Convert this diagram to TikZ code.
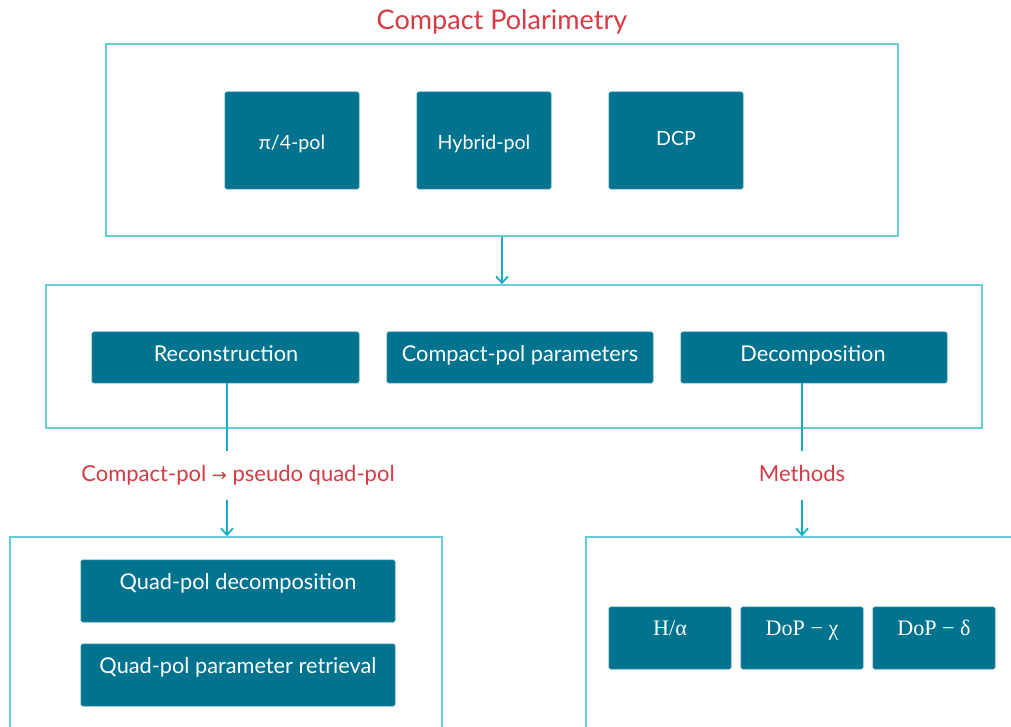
\documentclass[tikz,border=0pt]{standalone}
\usepackage{fontspec}
\setmainfont{Lato}
\newfontfamily\mserif{Liberation Serif}
\newfontfamily\symfont{DejaVu Sans}
\usetikzlibrary{arrows.meta,fit}
\definecolor{tealbox}{RGB}{2,115,143}
\definecolor{frameline}{RGB}{105,203,218}
\definecolor{connline}{RGB}{18,172,198}
\definecolor{redtext}{RGB}{214,58,68}
\begin{document}
\begin{tikzpicture}[x=0.75pt,y=-0.75pt,
  frame/.style={draw=frameline, line width=1.1pt, inner sep=0pt},
  tbox/.style={fill=tealbox, draw=tealbox!85!white, line width=0.5pt, rounded corners=1.2pt, inner sep=0pt},
  wtext/.style={text=white, anchor=base, inner sep=0pt, font=\fontsize{16.3}{19}\selectfont},
  ttext/.style={text=white, anchor=base, inner sep=0pt, font=\fontsize{14.7}{17}\selectfont},
  stext/.style={text=white, anchor=base, inner sep=0pt, font=\mserif\fontsize{16.6}{19}\selectfont},
  rtext/.style={text=redtext, anchor=base, inner sep=0pt, font=\fontsize{16.5}{19}\selectfont},
  conn/.style={draw=connline, line width=1.1pt},
  arr/.style={conn, -{Straight Barb[length=5pt,width=9pt,line width=1.3pt]}}
]
\useasboundingbox (0,0) rectangle (1011,727);

% title
\node[rtext, font=\fontsize{20.3}{24}\selectfont] (title) at (502,29.5) {Compact Polarimetry};

% top frame
\node[frame, fit={(106,44) (898,236)}] (topf) {};
\node[tbox, fit={(225,92) (359,189)}] (pi4) {};
\node[tbox, fit={(417,92) (551,189)}] (hyb) {};
\node[tbox, fit={(609,92) (743,189)}] (dcp) {};
\node[ttext] (pi4t) at (292,150) {π/4-pol};
\node[ttext] (hybt) at (484,150) {Hybrid-pol};
\node[ttext] (dcpt) at (676,145.5) {DCP};

% middle frame
\node[frame, fit={(46,285) (982,428)}] (midf) {};
\node[tbox, fit={(92,332) (359,383)}] (rec) {};
\node[tbox, fit={(387,332) (653,383)}] (cpp) {};
\node[tbox, fit={(681,332) (947,383)}] (dec) {};
\node[wtext] (rect) at (226,361.5) {Reconstruction};
\node[wtext] (cppt) at (520,361.5) {Compact-pol parameters};
\node[wtext] (dect) at (813,361.5) {Decomposition};

\draw[arr] (topf.south) -- (topf.south |- midf.north);

% labels
\node[rtext] (lab1) at (238,481.5) {Compact-pol {\symfont\fontsize{13.5}{16}\selectfont →} pseudo quad-pol};
\node[rtext] (lab2) at (802,481.5) {Methods};

% bottom frames
\node[frame, fit={(10,537) (442,740)}] (botl) {};
\node[frame, fit={(586,537) (1030,740)}] (botr) {};

\node[tbox, fit={(81,560) (395,622)}] (qpd) {};
\node[tbox, fit={(81,644) (395,706)}] (qpr) {};
\node[wtext] (qpdt) at (238,589.3) {Quad-pol decomposition};
\node[wtext] (qprt) at (238,673.3) {Quad-pol parameter retrieval};

\node[tbox, fit={(609,607) (731,669)}] (ha) {};
\node[tbox, fit={(741,607) (863,669)}] (dchi) {};
\node[tbox, fit={(873,607) (995,669)}] (ddel) {};
\node[stext] (hat) at (670,635) {H/α};
\node[stext] (dchit) at (802,635) {DoP − χ};
\node[stext] (ddelt) at (934,635) {DoP − δ};

% connectors
\coordinate (c1a) at (227,451);
\coordinate (c1b) at (227,500);
\coordinate (c2a) at (802,451);
\coordinate (c2b) at (802,500);
\draw[conn] (rec.south -| c1a) -- (c1a);
\draw[arr] (c1b) -- (c1b |- botl.north);
\draw[conn] (dec.south -| c2a) -- (c2a);
\draw[arr] (c2b) -- (c2b |- botr.north);
\end{tikzpicture}
\end{document}
